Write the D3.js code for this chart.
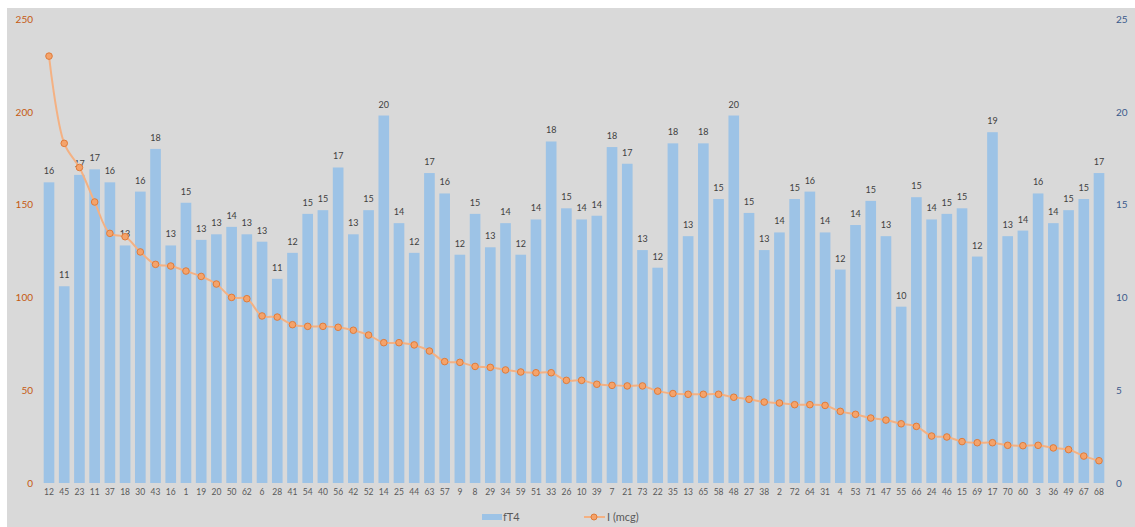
<!DOCTYPE html>
<html>
<head>
<meta charset="utf-8">
<script src="https://cdn.jsdelivr.net/npm/d3@7"></script>
<style>
html,body{margin:0;padding:0;background:#fff;}
svg{display:block;font-family:Lato,"Open Sans",sans-serif;}
</style>
</head>
<body>
<svg id="chart" width="1135" height="527"></svg>
<script>
const categories = ["12","45","23","11","37","18","30","43","16","1","19","20","50","62","6","28","41","54","40","56","42","52","14","25","44","63","57","9","8","29","34","59","51","33","26","10","39","7","21","73","22","35","13","65","58","48","27","38","2","72","64","31","4","53","71","47","55","66","24","46","15","69","17","70","60","3","36","49","67","68"];

const fT4 = [16.2,10.6,16.6,16.9,16.2,12.8,15.7,18.0,12.8,15.1,13.1,13.4,13.8,13.4,13.0,11.0,12.4,14.5,14.7,17.0,13.4,14.7,19.8,14.0,12.4,16.7,15.6,12.3,14.5,12.7,14.0,12.3,14.2,18.4,14.8,14.2,14.4,18.1,17.2,12.55,11.6,18.3,13.3,18.3,15.3,19.8,14.55,12.55,13.5,15.3,15.7,13.5,11.5,13.9,15.2,13.3,9.5,15.4,14.2,14.5,14.8,12.2,18.9,13.3,13.6,15.6,14.0,14.7,15.3,16.7];

const iodine = [230,183,170,151.4,134.5,132.7,124.5,117.8,116.9,114.2,111.3,107.2,100.0,99.3,90.0,89.4,85.3,84.4,84.4,83.9,82.3,79.7,75.6,75.6,74.4,71.1,65.4,65.0,62.8,62.3,60.9,59.8,59.4,59.4,55.3,55.3,53.2,52.6,52.3,52.3,49.5,48.2,47.8,47.8,47.8,46.2,45.1,43.6,43.1,42.2,42.2,41.8,38.6,37.0,35.0,33.9,31.9,30.5,25.3,24.8,22.3,21.7,21.7,20.3,20.1,20.3,18.9,18.0,14.5,12.0];

const leftTicks = [0,50,100,150,200,250];
const rightTicks = [0,5,10,15,20,25];
const seriesNames = ["fT4","I (mcg)"];

const svg = d3.select("#chart");
svg.append("rect").attr("x",7).attr("y",8).attr("width",1128).attr("height",519).attr("fill","#d9d9d9");

const x = d3.scaleBand().domain(categories).range([41.4,1106.6]).paddingInner(0.3).paddingOuter(0.15);
const yL = d3.scaleLinear().domain([0,250]).range([483,19]);
const yR = d3.scaleLinear().domain([0,25]).range([483,19]);

// bars
svg.append("g").selectAll("rect").data(fT4).join("rect")
  .attr("x",(d,i)=>x(categories[i]))
  .attr("y",d=>yR(d))
  .attr("width",x.bandwidth())
  .attr("height",d=>yR(0)-yR(d))
  .attr("fill","#9dc3e6");

// bar labels
svg.append("g").selectAll("text").data(fT4).join("text")
  .attr("x",(d,i)=>x(categories[i])+x.bandwidth()/2)
  .attr("y",d=>yR(d)-8)
  .attr("text-anchor","middle")
  .attr("font-size",9)
  .attr("fill","#404040")
  .text(d=>Math.round(d));

// line
const line = d3.line()
  .x((d,i)=>x(categories[i])+x.bandwidth()/2)
  .y(d=>yL(d))
  .curve(d3.curveCatmullRom.alpha(0.5));
svg.append("path").datum(iodine).attr("d",line)
  .attr("fill","none").attr("stroke","#f4b183").attr("stroke-width",2);
svg.append("g").selectAll("circle").data(iodine).join("circle")
  .attr("cx",(d,i)=>x(categories[i])+x.bandwidth()/2)
  .attr("cy",d=>yL(d))
  .attr("r",3.3)
  .attr("fill","#f4a36b").attr("stroke","#e07b39").attr("stroke-width",1);

// left axis
const axL = d3.axisLeft(yL).tickValues(leftTicks).tickSize(0).tickPadding(0);
const gL = svg.append("g").attr("transform","translate(33,0)").call(axL);
gL.select(".domain").remove();
gL.selectAll("text").attr("font-size",10).attr("fill","#c55a11").attr("font-family","Lato,sans-serif");

// right axis
const axR = d3.axisRight(yR).tickValues(rightTicks).tickSize(0).tickPadding(0);
const gR = svg.append("g").attr("transform","translate(1116,0)").call(axR);
gR.select(".domain").remove();
gR.selectAll("text").attr("font-size",10).attr("fill","#3a5a8c").attr("font-family","Lato,sans-serif");

// x axis
const axX = d3.axisBottom(x).tickSize(0).tickPadding(0);
const gX = svg.append("g").attr("transform","translate(0,489)").call(axX);
gX.select(".domain").remove();
gX.selectAll("text").attr("font-size",8.5).attr("fill","#595959").attr("font-family","Lato,sans-serif");

// legend
const lg = svg.append("g");
lg.append("rect").attr("x",482).attr("y",514).attr("width",20).attr("height",6).attr("fill","#9dc3e6");
lg.append("text").attr("x",503).attr("y",521).attr("font-size",11).attr("fill","#595959").text(seriesNames[0]);
lg.append("line").attr("x1",584).attr("x2",605).attr("y1",517).attr("y2",517).attr("stroke","#f4b183").attr("stroke-width",2);
lg.append("circle").attr("cx",594).attr("cy",517).attr("r",3).attr("fill","#f4a36b").attr("stroke","#e07b39").attr("stroke-width",1);
lg.append("text").attr("x",607).attr("y",521).attr("font-size",11).attr("fill","#595959").text(seriesNames[1]);
</script>
</body>
</html>
